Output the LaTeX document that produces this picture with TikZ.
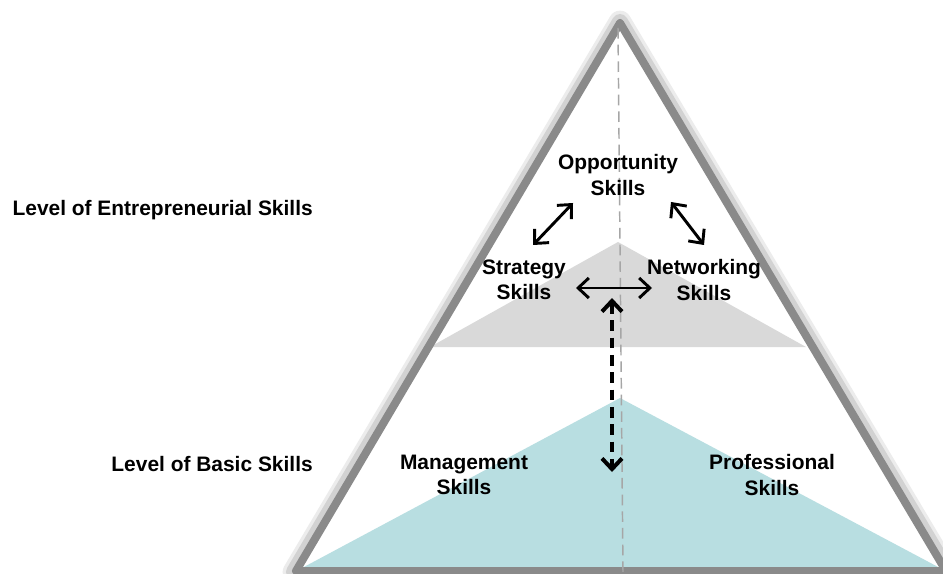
\documentclass[tikz,border=0pt]{standalone}
\usepackage{fontspec}
\setmainfont{Liberation Sans}
\usetikzlibrary{arrows.meta}
\definecolor{tealfill}{HTML}{B8DEE1}
\definecolor{grayfill}{HTML}{D9D9D9}
\definecolor{bordergray}{HTML}{8A8A8A}
\tikzset{
  lbl/.style={font=\fontsize{15.7}{18.8}\selectfont\bfseries, align=center, inner sep=0pt, text=black},
  lvl/.style={font=\fontsize{15.7}{18.8}\selectfont\bfseries, anchor=east, inner sep=0pt, text=black},
  arr/.style={line width=2.2pt, {Straight Barb[length=8pt,width=15pt]}-{Straight Barb[length=8pt,width=15pt]}},
  darr/.style={line width=3pt, dash pattern=on 8pt off 5pt, {Straight Barb[length=8pt,width=15pt]}-{Straight Barb[length=8pt,width=15pt]}},
  axis/.style={draw=gray!70, line width=1.1pt, dash pattern=on 8pt off 4.5pt}
}
\begin{document}
\begin{tikzpicture}[x=0.75pt,y=-0.75pt]
\useasboundingbox (0,0) rectangle (943,574);
\fill[white] (0,0) rectangle (943,574);
% soft shadow of the outer border
\draw[line width=17pt, gray!15, line join=round] (620,22) -- (294,572) -- (948,572) -- cycle;
\draw[line width=12pt, gray!35, line join=round] (620,22) -- (294,572) -- (948,572) -- cycle;
\fill[white] (620,30) -- (302,568) -- (940,568) -- cycle;
% inner fills
\fill[grayfill] (618,242) -- (806,347) -- (430,347) -- cycle;
\fill[tealfill] (620,398) -- (940,568) -- (302,568) -- cycle;
% outer border
\draw[line width=6pt, bordergray, line join=round] (620,23) -- (296,571) -- (946,571) -- cycle;
% centre axis
\coordinate (axtop) at (618,28);
\coordinate (axbot) at (623,572);
\draw[axis] (axtop) -- (axbot);
% level labels
\node[lvl] (lvlE) at (313,210) {Level of Entrepreneurial Skills};
\node[lvl] (lvlB) at (313,464) {Level of Basic Skills};
% skill nodes
\node[lbl] (opp) at (618,175) {Opportunity\\Skills};
\node[lbl] (strat) at (524,280) {Strategy\\Skills};
\node[lbl] (net) at (704,280) {Networking\\Skills};
\node[lbl] (mgmt) at (464,475) {Management\\Skills};
\node[lbl] (prof) at (772,475) {Professional\\Skills};
% arrow end points
\coordinate (o1) at ([xshift=-45*0.75pt,yshift=-28*0.75pt]opp.center);
\coordinate (s1) at ([xshift=9*0.75pt,yshift=35*0.75pt]strat.center);
\coordinate (o2) at ([xshift=53*0.75pt,yshift=-27*0.75pt]opp.center);
\coordinate (n1) at ([xshift=0pt,yshift=35*0.75pt]net.center);
\coordinate (s2) at ([xshift=52*0.75pt,yshift=-8*0.75pt]strat.center);
\coordinate (n2) at ([xshift=-52*0.75pt,yshift=-8*0.75pt]net.center);
\coordinate (d1) at (612,298);
\coordinate (d2) at (612,472);
\draw[arr] (o1) -- (s1);
\draw[arr] (o2) -- (n1);
\draw[arr] (s2) -- (n2);
\draw[darr] (d1) -- (d2);
\end{tikzpicture}
\end{document}
